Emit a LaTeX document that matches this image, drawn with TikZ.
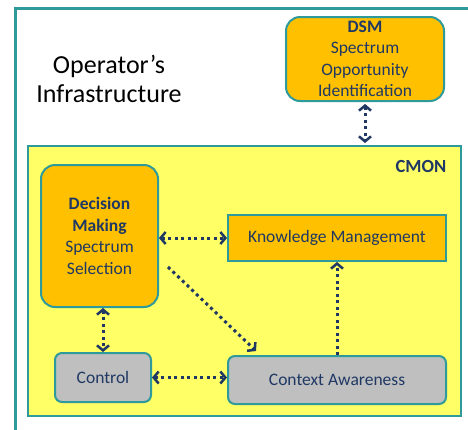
\documentclass[tikz,border=0pt]{standalone}
\usepackage{fontspec}
\setmainfont{Carlito}
\usetikzlibrary{positioning,arrows.meta}
\definecolor{frameteal}{HTML}{2E9A9C}
\definecolor{cmonyellow}{HTML}{FFFF66}
\definecolor{blockorange}{HTML}{FFC000}
\definecolor{blockgray}{HTML}{BFBFBF}
\definecolor{navy}{HTML}{1F3864}

\tikzset{
  block/.style={draw=frameteal, line width=2pt, text=navy, align=center,
    font=\fontsize{17.5}{21.5}\selectfont},
  dotlink/.style={navy, line width=3pt, dash pattern=on 3pt off 3.5pt,
    {Straight Barb[length=5pt,width=12pt,line width=2.5pt]}-{Straight Barb[length=5pt,width=12pt,line width=2.5pt]}},
  onelink/.style={navy, line width=3pt, dash pattern=on 3pt off 3.5pt,
    -{Straight Barb[length=5pt,width=12pt,line width=2.5pt]}}
}

\begin{document}
\begin{tikzpicture}[x=1pt,y=-1pt]
\useasboundingbox (0,0) rectangle (468,429);
\clip (0,0) rectangle (468,429);
\fill[white] (0,0) rectangle (468,429);

% outer frame
\draw[frameteal, line width=3pt] (15,8) rectangle (480,440);
\node[font=\fontsize{26}{28.5}\selectfont, align=center] (infra) at (109,79) {Operator’s\\Infrastructure};

% CMON area
\node[draw=frameteal, line width=2pt, fill=cmonyellow, minimum width=433pt, minimum height=270pt] (cmon) at (244.5,281) {};
\node[text=navy, font=\fontsize{18.5}{20}\selectfont\bfseries] (cmonlabel) at (421,166) {CMON};

% blocks
\node[block, fill=blockorange, rounded corners=14pt, minimum width=158pt, minimum height=84pt] (dsm) at (365,59) {\textbf{DSM}\\Spectrum\\Opportunity\\Identification};
\node[block, fill=blockorange, rounded corners=14pt, minimum width=117pt, minimum height=142pt] (dm) at (99.5,236) {\textbf{Decision}\\\textbf{Making}\\Spectrum\\Selection};
\node[block, fill=blockorange, minimum width=218pt, minimum height=46pt] (km) at (337,238) {Knowledge Management};
\node[block, fill=blockgray, rounded corners=7pt, minimum width=96pt, minimum height=49pt] (ctl) at (103,377.5) {Control};
\node[block, fill=blockgray, rounded corners=7pt, minimum width=218pt, minimum height=48pt] (ca) at (337,380) {Context Awareness};

% links
\draw[dotlink] ([yshift=-2pt]dsm.south) -- ([yshift=2pt]dsm.south |- cmon.north);
\draw[dotlink] (km.west -| dm.east) -- (km.west);
\draw[onelink] ([shift={(9,31)}]dm.east) -- ([shift={(29,-4)}]ca.north west);
\draw[onelink] (ca.north) -- (km.south);
\draw[dotlink] (ctl.north |- dm.south) -- (ctl.north);
\draw[dotlink] (ctl.east) -- (ctl.east -| ca.west);
\end{tikzpicture}
\end{document}
